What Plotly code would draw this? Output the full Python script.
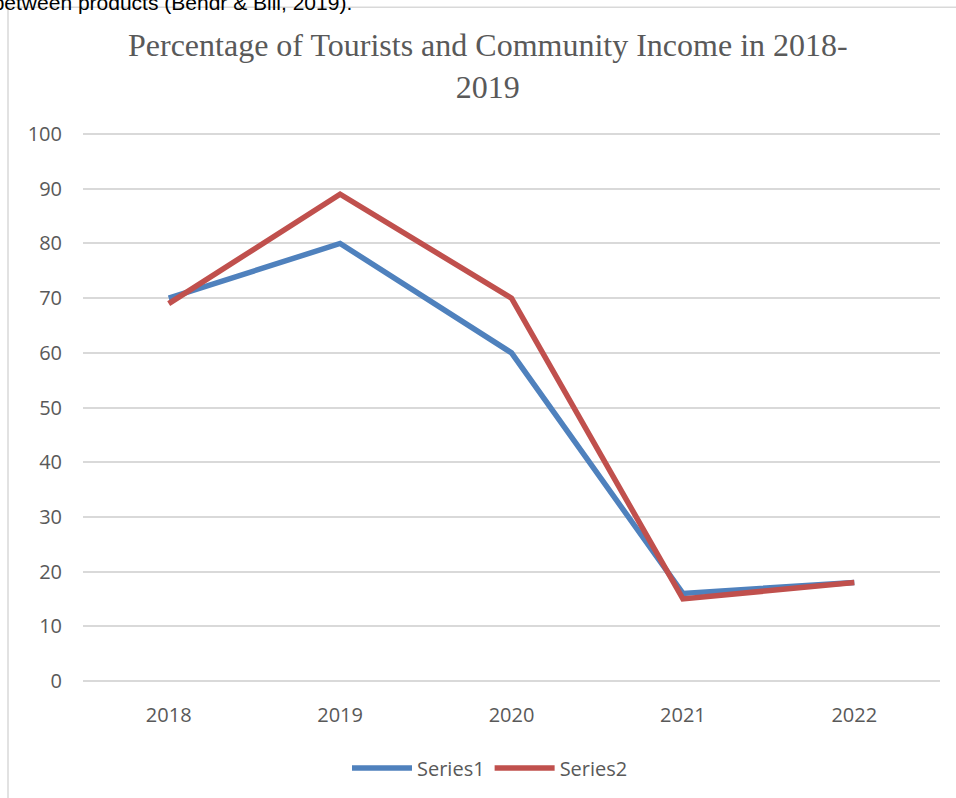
import plotly.graph_objects as go

years = ["2018", "2019", "2020", "2021", "2022"]
series1 = [70, 80, 60, 16, 18]
series2 = [69, 89, 70, 15, 18]
y_ticks = [0, 10, 20, 30, 40, 50, 60, 70, 80, 90, 100]

W, H = 956, 798
L, R, T, B = 83, 16, 133, 115
pw, ph = W - L - R, H - T - B

def px_x(x):
    return (x - L) / pw

def px_y(y):
    return (H - B - y) / ph

fig = go.Figure()
fig.add_trace(go.Scatter(x=years, y=series1, mode="lines", name="Series1",
                         line=dict(color="#4f81bd", width=5.5)))
fig.add_trace(go.Scatter(x=years, y=series2, mode="lines", name="Series2",
                         line=dict(color="#c0504d", width=5.5)))

tick_font = dict(family="Open Sans, sans-serif", size=20, color="#595959")

fig.update_layout(
    width=W, height=H,
    margin=dict(l=L, r=R, t=T, b=B, pad=0),
    paper_bgcolor="white", plot_bgcolor="white",
    xaxis=dict(type="category", range=[-0.5, 4.5], showgrid=False, zeroline=False,
               showline=False, ticks="", tickfont=tick_font, ticklabelstandoff=19),
    yaxis=dict(range=[-0.2, 100.2], tickvals=y_ticks, showgrid=True, gridcolor="#d9d9d9",
               gridwidth=1.5, zeroline=True, zerolinecolor="#d9d9d9", zerolinewidth=1.5,
               showline=False, ticks="", tickfont=tick_font, ticklabelstandoff=20),
    legend=dict(orientation="h", x=px_x(490), xanchor="center", y=px_y(768), yanchor="middle",
                font=tick_font, itemwidth=60),
    showlegend=True,
    shapes=[
        dict(type="line", xref="paper", yref="paper", x0=px_x(8), x1=px_x(8),
             y0=px_y(7), y1=px_y(810), line=dict(color="#d9d9d9", width=1.5)),
        dict(type="line", xref="paper", yref="paper", x0=px_x(8), x1=px_x(970),
             y0=px_y(7), y1=px_y(7), line=dict(color="#d9d9d9", width=1.5)),
    ],
    annotations=[
        dict(text="Percentage of Tourists and Community Income in 2018-<br>2019",
             xref="paper", yref="paper", x=px_x(488), y=px_y(66),
             xanchor="center", yanchor="middle", showarrow=False,
             font=dict(family="Liberation Serif, Times New Roman, serif", size=32, color="#595959")),
        dict(text="ies between products (Bendr &amp; Bill, 2019).", xref="paper", yref="paper",
             x=px_x(354), y=px_y(16), xanchor="right", yanchor="bottom", showarrow=False,
             font=dict(family="Liberation Sans, sans-serif", size=21, color="black")),
    ],
)

fig.write_html("out.html")
